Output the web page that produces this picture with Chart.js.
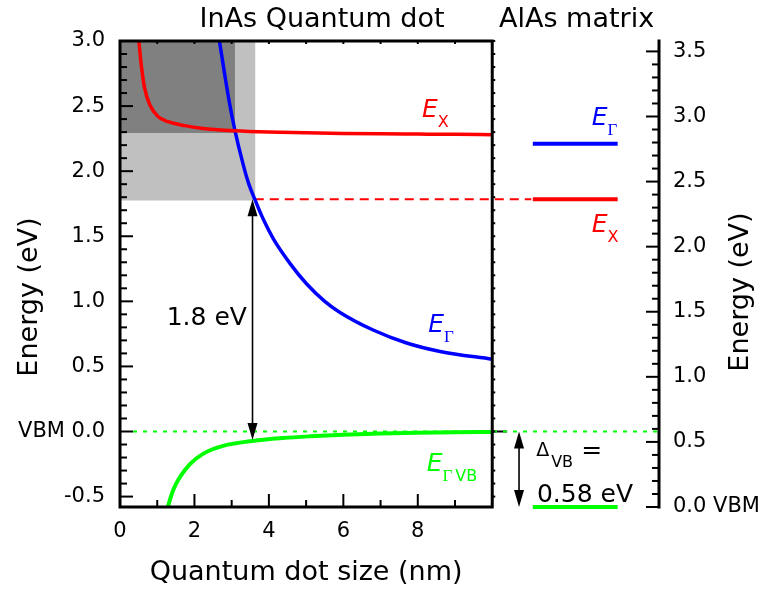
<!DOCTYPE html>
<html>
<head>
<meta charset="utf-8">
<script src="https://cdn.jsdelivr.net/npm/chart.js@4.4.0/dist/chart.umd.min.js"></script>
<style>
  html, body { margin: 0; padding: 0; background: #fff; }
</style>
</head>
<body>
<canvas id="c" width="767" height="594"></canvas>
<script>
// values: dot size (nm) -> energy (eV)
const exSize   = [0.50, 0.57, 0.66, 0.80, 1.02, 1.29, 1.74, 2.18, 3.08, 4, 5, 6, 7, 8, 9, 10];
const exEnergy = [3.02, 2.82, 2.64, 2.51, 2.42, 2.38, 2.35, 2.33, 2.31, 2.30, 2.295, 2.29, 2.287, 2.285, 2.283, 2.28];
const egSize   = [2.66, 2.82, 2.95, 3.09, 3.31, 3.45, 3.62, 3.85, 4.12, 4.57, 5.01, 5.50, 5.91, 6.80, 7.70, 8.60, 10];
const egEnergy = [3.02, 2.73, 2.51, 2.31, 2.05, 1.91, 1.785, 1.63, 1.48, 1.29, 1.135, 1.00, 0.915, 0.78, 0.68, 0.615, 0.555];
const vbSize   = [1.26, 1.43, 1.61, 1.88, 2.24, 2.77, 3.49, 4.38, 5.10, 6, 7, 8, 9, 10];
const vbEnergy = [-0.60, -0.45, -0.35, -0.25, -0.17, -0.11, -0.075, -0.050, -0.037, -0.025, -0.016, -0.010, -0.006, -0.004];

// AlAs matrix levels (left-axis energy) and where they are drawn
const matrixSpan = [11.09, 13.37];
const matrixGamma = 2.21;
const matrixX = 1.785;
const matrixVB = -0.58;
const vbOffset = 0.58;

// shaded regions: [size limit, lower energy]
const lightShade = [3.64, 1.775];
const darkShade = [3.09, 2.293];

// guide lines and arrows
const vbmLine = [0.35, 14.43];
const xDash = [3.62, 11.05];
const vbmTick = [9.56, 10.4];
const gapArrow = { at: 3.56, from: -0.065, to: 1.785 };
const offsetArrow = { at: 10.72, from: 0, to: -0.58 };

const xTicks = [0, 2, 4, 6, 8];
const yTicks = [-0.5, 0, 0.5, 1.0, 1.5, 2.0, 2.5, 3.0];
const y2Ticks = [0, 0.5, 1.0, 1.5, 2.0, 2.5, 3.0, 3.5];
const yMin = -0.58, yMax = 3.0, xMax = 14.48;

const pts = (xs, ys) => xs.map((x, i) => ({ x, y: ys[i] }));
const seg = (xs, v) => [{ x: xs[0], y: v }, { x: xs[1], y: v }];
const tickFont = { family: 'DejaVu Sans', size: 21 };

const frame = {
  id: 'frame',
  afterDatasetsDraw(chart) {
    const { ctx, chartArea: a, scales: { x, y, y2 } } = chart;
    const X = v => x.getPixelForValue(v), Y = v => y.getPixelForValue(v);
    const line = (x1, y1, x2, y2_) => { ctx.beginPath(); ctx.moveTo(x1, y1); ctx.lineTo(x2, y2_); ctx.stroke(); };
    ctx.save();
    ctx.strokeStyle = '#000'; ctx.fillStyle = '#000';
    ctx.lineWidth = 3;
    ctx.strokeRect(X(0), a.top, X(10) - X(0), a.bottom - a.top);
    line(a.right, a.top - 1.5, a.right, a.bottom + 1.5);

    ctx.lineWidth = 2;
    for (let i = -5; i <= 30; i++) {
      const py = Y(i / 10), len = i % 5 === 0 ? 13 : 7;
      line(X(0), py, X(0) + len, py);
      line(X(10), py, X(10) + 3, py);
    }
    for (let i = 0; i <= 35; i++) {
      const py = y2.getPixelForValue(i / 10), len = i % 5 === 0 ? 13 : 7;
      line(a.right - len, py, a.right, py);
    }
    for (let i = 1; i <= 9; i++) {
      const px = X(i), len = i % 2 === 0 ? 13 : 7;
      line(px, a.bottom, px, a.bottom - len);
      line(px, a.top, px, a.top + 3);
    }

    // double arrows
    const arrow = (o) => {
      const px = X(o.at), y1 = Y(o.from), y2p = Y(o.to);
      const d = y2p > y1 ? 1 : -1;
      ctx.lineWidth = 1.6;
      line(px, y1 + d * 10, px, y2p - d * 10);
      const head = (ty, dir) => {
        ctx.beginPath(); ctx.moveTo(px, ty);
        ctx.lineTo(px - 5, ty - dir * 17); ctx.lineTo(px + 5, ty - dir * 17);
        ctx.closePath(); ctx.fill();
      };
      head(y1, -d); head(y2p, d);
    };
    arrow(gapArrow);
    arrow(offsetArrow);

    // labels
    const label = (xv, yv, color, sub, subSerif) => {
      const px = X(xv), py = Y(yv);
      ctx.fillStyle = color; ctx.textAlign = 'left'; ctx.textBaseline = 'alphabetic';
      ctx.font = 'italic 25px "DejaVu Sans"';
      ctx.fillText('E', px, py);
      let sx = px + ctx.measureText('E').width;
      if (subSerif) {
        ctx.font = '17px "Liberation Serif"';
        ctx.fillText('\u0393', sx, py + 10);
        sx += ctx.measureText('\u0393').width + 3;
      }
      if (sub) {
        ctx.font = '16px "DejaVu Sans"';
        ctx.fillText(sub, sx, py + 10);
      }
    };
    label(8.11, 2.418, '#ff0000', 'X', false);
    label(12.67, 2.355, '#0000ff', '', true);
    label(12.67, 1.535, '#ff0000', 'X', false);
    label(8.28, 0.767, '#0000ff', '', true);
    label(8.24, -0.30, '#00ff00', 'VB', true);

    ctx.fillStyle = '#000';
    ctx.font = '25px "DejaVu Sans"';
    ctx.fillText('1.8 eV', X(1.255), Y(0.818));
    ctx.fillText('0.58 eV', X(11.2), Y(-0.539));
    ctx.font = '19px "DejaVu Sans"';
    ctx.fillText('\u0394', X(11.18), Y(-0.188));
    ctx.font = '16px "DejaVu Sans"';
    ctx.fillText('VB', X(11.18) + 15, Y(-0.188) + 11);
    ctx.font = '25px "DejaVu Sans"';
    ctx.fillText('=', X(11.18) + 45, Y(-0.188) + 2);
    ctx.restore();
  },
  afterDraw(chart) {
    const { ctx, scales: { x } } = chart;
    ctx.save();
    ctx.fillStyle = '#000';
    ctx.font = '27px "DejaVu Sans"';
    ctx.textBaseline = 'alphabetic';
    ctx.textAlign = 'center';
    ctx.fillText('InAs Quantum dot', 322, 27);
    ctx.textAlign = 'left';
    ctx.fillText('AlAs matrix', 499, 27);
    ctx.textAlign = 'center';
    ctx.fillText('Quantum dot size (nm)', (x.getPixelForValue(0) + x.getPixelForValue(10)) / 2, 580);
    ctx.textBaseline = 'middle';
    [[30, 297], [741, 292]].forEach(([px, py]) => {
      ctx.save(); ctx.translate(px, py); ctx.rotate(-Math.PI / 2);
      ctx.fillText('Energy (eV)', 0, 0); ctx.restore();
    });
    ctx.restore();
  }
};

new Chart(document.getElementById('c'), {
  type: 'line',
  data: {
    datasets: [
      { data: pts(exSize, exEnergy), borderColor: '#ff0000', borderWidth: 3.5, cubicInterpolationMode: 'monotone', order: 1 },
      { data: pts(egSize, egEnergy), borderColor: '#0000ff', borderWidth: 3.5, cubicInterpolationMode: 'monotone', order: 1 },
      { data: pts(vbSize, vbEnergy), borderColor: '#00ff00', borderWidth: 4, cubicInterpolationMode: 'monotone', order: 1 },
      { data: seg(vbmLine, 0), borderColor: '#00ff00', borderWidth: 2, borderDash: [4, 6], order: 2 },
      { data: seg(xDash, matrixX), borderColor: '#ff0000', borderWidth: 2, borderDash: [9, 6], order: 2 },
      { data: seg(vbmTick, 0), borderColor: '#000000', borderWidth: 2, order: 2 },
      { data: seg(matrixSpan, matrixGamma), borderColor: '#0000ff', borderWidth: 4, order: 2 },
      { data: seg(matrixSpan, matrixX), borderColor: '#ff0000', borderWidth: 4, order: 2 },
      { data: seg(matrixSpan, matrixVB), borderColor: '#00ff00', borderWidth: 4, order: 2, clip: false },
      { data: seg([0, lightShade[0]], yMax), fill: { value: lightShade[1] }, backgroundColor: '#c0c0c0', borderColor: 'rgba(0,0,0,0)', borderWidth: 0, order: 20 },
      { data: seg([0, darkShade[0]], yMax), fill: { value: darkShade[1] }, backgroundColor: '#808080', borderColor: 'rgba(0,0,0,0)', borderWidth: 0, order: 19 }
    ]
  },
  options: {
    responsive: false,
    animation: false,
    devicePixelRatio: 1,
    layout: { padding: { top: 41, left: 0, right: 0, bottom: 0 } },
    plugins: { legend: { display: false }, tooltip: { enabled: false } },
    elements: { point: { radius: 0 } },
    scales: {
      x: {
        type: 'linear', min: 0, max: xMax,
        grid: { display: false, drawTicks: false }, border: { display: false },
        ticks: { font: tickFont, color: '#000', padding: 12, maxRotation: 0, autoSkip: false, callback: v => String(v) },
        afterBuildTicks: s => { s.ticks = xTicks.map(v => ({ value: v })); },
        afterFit: s => { s.height = 87; }
      },
      y: {
        position: 'left', min: yMin, max: yMax,
        grid: { display: false, drawTicks: false }, border: { display: false },
        ticks: { font: tickFont, color: '#000', padding: 15, callback: v => v === 0 ? 'VBM 0.0' : v.toFixed(1) },
        afterBuildTicks: s => { s.ticks = yTicks.map(v => ({ value: v })); },
        afterFit: s => { s.width = 120; }
      },
      y2: {
        position: 'right', min: yMin + vbOffset, max: yMax + vbOffset,
        grid: { display: false, drawTicks: false }, border: { display: false },
        ticks: { font: tickFont, color: '#000', padding: 14, callback: v => v === 0 ? '0.0 VBM' : v.toFixed(1) },
        afterBuildTicks: s => { s.ticks = y2Ticks.map(v => ({ value: v })); },
        afterFit: s => { s.width = 108; }
      }
    }
  },
  plugins: [frame]
});
</script>
</body>
</html>
